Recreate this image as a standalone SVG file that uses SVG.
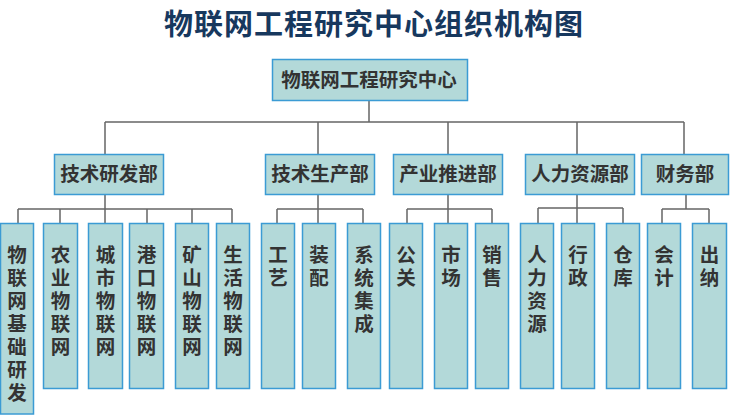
<svg xmlns="http://www.w3.org/2000/svg" width="730" height="417" viewBox="0 0 730 417">
<style>
.box{fill:#b3d9d9;stroke:#3b9bd4;stroke-width:1.5}
.lbl{font-family:"Noto Sans CJK SC","Noto Sans",sans-serif;font-weight:bold;font-size:19.5px;fill:#333;text-anchor:middle}
.leaf{font-family:"Noto Sans CJK SC","Noto Sans",sans-serif;font-weight:bold;font-size:19.5px;fill:#333;text-anchor:middle}
.ln{fill:none;stroke:#666;stroke-width:1.5}
.title{font-family:"Noto Sans CJK SC","Noto Sans",sans-serif;font-weight:bold;font-size:29px;fill:#17385e;text-anchor:middle;letter-spacing:1px}
</style>
<rect width="730" height="417" fill="#fff"/>
<text class="title" x="374" y="35">物联网工程研究中心组织机构图</text>
<g id="connectors">
<path class="ln" d="M369 101V122M105 122H684M105 122V154M318 122V154M448 122V154M577 122V154M684 122V154"/>
<path class="ln" d="M105 194V209M18 209H232M18 209V223M60 209V223M105 209V223M147 209V223M192 209V223M232 209V223"/>
<path class="ln" d="M318 194V209M277 209H363M277 209V223M318 209V223M363 209V223"/>
<path class="ln" d="M448 194V209M407 209H492M407 209V223M448 209V223M492 209V223"/>
<path class="ln" d="M577 194V208M538 208H623M538 208V223M577 208V223M623 208V223"/>
<path class="ln" d="M686 194V209M662 209H709M662 209V223M709 209V223"/>
</g>
<g id="root"><rect class="box" x="272.5" y="59.5" width="195" height="41"/><text class="lbl" x="369" y="87">物联网工程研究中心</text></g>
<g id="d1"><rect class="box" x="54.5" y="154.5" width="109" height="40"/><text class="lbl" x="109" y="181">技术研发部</text></g>
<g id="d2"><rect class="box" x="265.5" y="154.5" width="109" height="40"/><text class="lbl" x="320" y="181">技术生产部</text></g>
<g id="d3"><rect class="box" x="393.5" y="154.5" width="109" height="40"/><text class="lbl" x="448" y="181">产业推进部</text></g>
<g id="d4"><rect class="box" x="525.5" y="154.5" width="109" height="40"/><text class="lbl" x="580" y="181">人力资源部</text></g>
<g id="d5"><rect class="box" x="641.5" y="154.5" width="87" height="40"/><text class="lbl" x="685" y="181">财务部</text></g>
<g id="l1"><rect class="box" x="0.5" y="223.5" width="33" height="190.5"/><text class="leaf"><tspan x="17" y="262">物</tspan><tspan x="17" y="285">联</tspan><tspan x="17" y="308">网</tspan><tspan x="17" y="331">基</tspan><tspan x="17" y="354">础</tspan><tspan x="17" y="377">研</tspan><tspan x="17" y="400">发</tspan></text></g>
<g id="l2"><rect class="box" x="43.5" y="223.5" width="34" height="165"/><text class="leaf"><tspan x="60.5" y="262">农</tspan><tspan x="60.5" y="285">业</tspan><tspan x="60.5" y="308">物</tspan><tspan x="60.5" y="331">联</tspan><tspan x="60.5" y="354">网</tspan></text></g>
<g id="l3"><rect class="box" x="88.5" y="223.5" width="34" height="165"/><text class="leaf"><tspan x="105.5" y="262">城</tspan><tspan x="105.5" y="285">市</tspan><tspan x="105.5" y="308">物</tspan><tspan x="105.5" y="331">联</tspan><tspan x="105.5" y="354">网</tspan></text></g>
<g id="l4"><rect class="box" x="129.5" y="223.5" width="34" height="165"/><text class="leaf"><tspan x="146.5" y="262">港</tspan><tspan x="146.5" y="285">口</tspan><tspan x="146.5" y="308">物</tspan><tspan x="146.5" y="331">联</tspan><tspan x="146.5" y="354">网</tspan></text></g>
<g id="l5"><rect class="box" x="175.5" y="223.5" width="33" height="165"/><text class="leaf"><tspan x="192" y="262">矿</tspan><tspan x="192" y="285">山</tspan><tspan x="192" y="308">物</tspan><tspan x="192" y="331">联</tspan><tspan x="192" y="354">网</tspan></text></g>
<g id="l6"><rect class="box" x="216.5" y="223.5" width="33" height="165"/><text class="leaf"><tspan x="233" y="262">生</tspan><tspan x="233" y="285">活</tspan><tspan x="233" y="308">物</tspan><tspan x="233" y="331">联</tspan><tspan x="233" y="354">网</tspan></text></g>
<g id="l7"><rect class="box" x="261.5" y="223.5" width="33" height="165"/><text class="leaf"><tspan x="278" y="262">工</tspan><tspan x="278" y="285">艺</tspan></text></g>
<g id="l8"><rect class="box" x="302.5" y="223.5" width="33" height="165"/><text class="leaf"><tspan x="319" y="262">装</tspan><tspan x="319" y="285">配</tspan></text></g>
<g id="l9"><rect class="box" x="347.5" y="223.5" width="33" height="165"/><text class="leaf"><tspan x="364" y="262">系</tspan><tspan x="364" y="285">统</tspan><tspan x="364" y="308">集</tspan><tspan x="364" y="331">成</tspan></text></g>
<g id="l10"><rect class="box" x="389.5" y="223.5" width="33" height="165"/><text class="leaf"><tspan x="406" y="262">公</tspan><tspan x="406" y="285">关</tspan></text></g>
<g id="l11"><rect class="box" x="434.5" y="223.5" width="33" height="165"/><text class="leaf"><tspan x="451" y="262">市</tspan><tspan x="451" y="285">场</tspan></text></g>
<g id="l12"><rect class="box" x="475.5" y="223.5" width="33" height="165"/><text class="leaf"><tspan x="492" y="262">销</tspan><tspan x="492" y="285">售</tspan></text></g>
<g id="l13"><rect class="box" x="520.5" y="223.5" width="33" height="165"/><text class="leaf"><tspan x="537" y="262">人</tspan><tspan x="537" y="285">力</tspan><tspan x="537" y="308">资</tspan><tspan x="537" y="331">源</tspan></text></g>
<g id="l14"><rect class="box" x="561.5" y="223.5" width="33" height="165"/><text class="leaf"><tspan x="578" y="262">行</tspan><tspan x="578" y="285">政</tspan></text></g>
<g id="l15"><rect class="box" x="606.5" y="223.5" width="33" height="165"/><text class="leaf"><tspan x="623" y="262">仓</tspan><tspan x="623" y="285">库</tspan></text></g>
<g id="l16"><rect class="box" x="647.5" y="223.5" width="33" height="165"/><text class="leaf"><tspan x="664" y="262">会</tspan><tspan x="664" y="285">计</tspan></text></g>
<g id="l17"><rect class="box" x="692.5" y="223.5" width="34" height="165"/><text class="leaf"><tspan x="709.5" y="262">出</tspan><tspan x="709.5" y="285">纳</tspan></text></g>
</svg>
